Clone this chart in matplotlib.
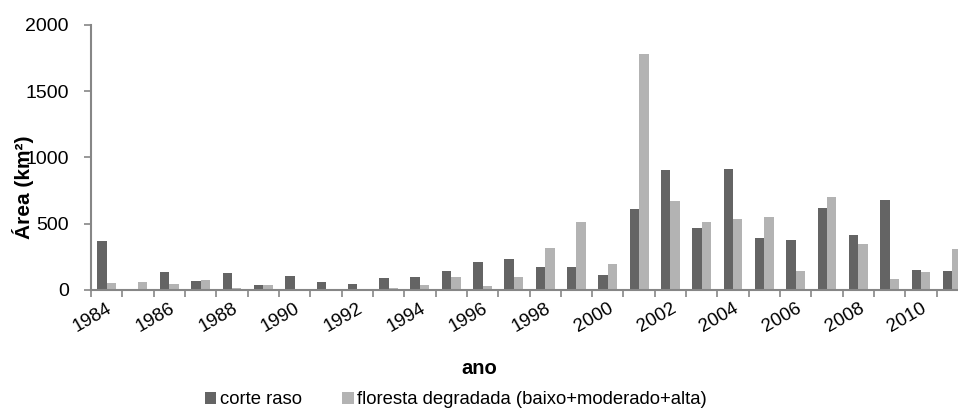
import numpy as np
import matplotlib.pyplot as plt

plt.rcParams['font.family'] = ['Liberation Sans', 'DejaVu Sans']

anos = list(range(1984, 2012))
corte_raso = [367, 0, 133, 66, 128, 35, 106, 60, 48, 93, 101, 146, 211, 234,
              176, 174, 111, 609, 903, 465, 916, 390, 377, 619, 413, 679, 153, 146]
floresta_degradada = [53, 63, 45, 78, 13, 40, 2, 7, 2, 17, 38, 96, 33, 101,
                      315, 516, 196, 1779, 669, 516, 533, 551, 146, 704, 345, 85, 138, 307]

escuro = '#646464'
claro = '#b3b3b3'
eixo = '#868686'

fig = plt.figure(figsize=(9.58, 4.09), dpi=100)
ax = fig.add_axes([91 / 958, 119 / 409, 877 / 958, 265 / 409])

x = np.arange(len(anos))
w = 0.3
ax.bar(x - w / 2, corte_raso, w, color=escuro, label='corte raso')
ax.bar(x + w / 2, floresta_degradada, w, color=claro,
       label='floresta degradada (baixo+moderado+alta)')

ax.set_xlim(-0.5, len(anos) - 0.5)
ax.set_ylim(0, 2000)
ax.set_yticks([0, 500, 1000, 1500, 2000])

ax.set_xticks(x)
ax.set_xticklabels([str(a) if a % 2 == 0 else '' for a in anos],
                   rotation=30, ha='right', rotation_mode='anchor')
ax.set_xticks(np.arange(len(anos) + 1) - 0.5, minor=True)
ax.tick_params(axis='x', which='major', length=0, pad=7, labelsize=13.5)
ax.tick_params(axis='x', which='minor', length=5, color=eixo, width=1.2)
ax.tick_params(axis='y', length=5, color=eixo, width=1.2, labelsize=14, pad=11)

for s in ['top', 'right']:
    ax.spines[s].set_visible(False)
for s in ['left', 'bottom']:
    ax.spines[s].set_color(eixo)
    ax.spines[s].set_linewidth(1.5)

fig.text(23 / 958, 1 - 187 / 409, 'Área (km²)', rotation=90, ha='center',
         va='center', fontsize=15, fontweight='bold')
fig.text(479 / 958, 1 - 368 / 409, 'ano', ha='center', va='center',
         fontsize=14.5, fontweight='bold')

fig.legend(loc='center', bbox_to_anchor=(456 / 958, 1 - 400 / 409), ncol=2,
           frameon=False, fontsize=13.3, handlelength=0.6, handleheight=0.6,
           handletextpad=0.2, columnspacing=2.2, borderaxespad=0, borderpad=0)

fig.savefig('out.png', dpi=100)
